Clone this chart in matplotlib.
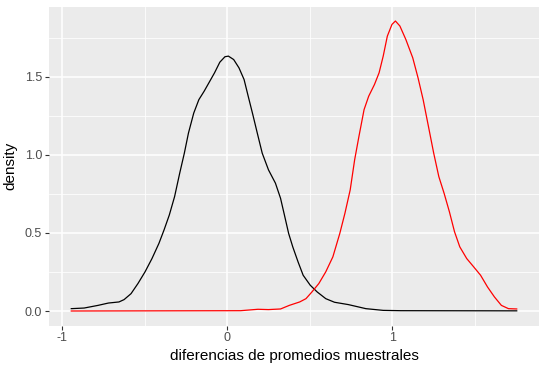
import matplotlib
matplotlib.use("Agg")
import matplotlib.pyplot as plt
import numpy as np

plt.rcParams['font.family'] = ['Liberation Sans', 'DejaVu Sans']

# Black density (null distribution)
black_x = [-0.946, -0.868, -0.784, -0.721, -0.657, -0.626, -0.584, -0.542, -0.499, -0.457,
           -0.415, -0.384, -0.352, -0.320, -0.289, -0.261, -0.236, -0.204, -0.173, -0.141,
           -0.110, -0.078, -0.046, -0.015, 0.006, 0.038, 0.070, 0.101, 0.126, 0.154,
           0.181, 0.211, 0.249, 0.291, 0.322, 0.343, 0.371, 0.396, 0.428, 0.459,
           0.502, 0.544, 0.596, 0.649, 0.733, 0.839, 0.944, 1.050, 1.753]
black_y = [0.015, 0.019, 0.036, 0.051, 0.058, 0.073, 0.111, 0.176, 0.251, 0.336,
           0.433, 0.519, 0.615, 0.733, 0.883, 1.011, 1.140, 1.268, 1.354, 1.408,
           1.466, 1.526, 1.594, 1.629, 1.633, 1.611, 1.558, 1.483, 1.376, 1.258,
           1.140, 1.011, 0.904, 0.819, 0.722, 0.626, 0.497, 0.411, 0.315, 0.229,
           0.165, 0.122, 0.079, 0.056, 0.041, 0.015, 0.004, 0.002, 0.001]

# Red density (alternative distribution)
red_x = [-0.946, 0.080, 0.185, 0.249, 0.322, 0.375, 0.438, 0.476, 0.512, 0.554,
         0.596, 0.639, 0.681, 0.712, 0.744, 0.771, 0.797, 0.828, 0.856, 0.891,
         0.919, 0.944, 0.969, 0.997, 1.018, 1.045, 1.081, 1.123, 1.155, 1.186,
         1.218, 1.250, 1.281, 1.313, 1.345, 1.376, 1.408, 1.450, 1.492, 1.534,
         1.576, 1.618, 1.660, 1.703, 1.753]
red_y = [0.000, 0.002, 0.011, 0.009, 0.013, 0.036, 0.058, 0.079, 0.122, 0.176,
         0.251, 0.347, 0.497, 0.626, 0.776, 0.969, 1.119, 1.290, 1.376, 1.451,
         1.526, 1.633, 1.761, 1.836, 1.858, 1.826, 1.740, 1.622, 1.494, 1.354,
         1.183, 1.011, 0.861, 0.754, 0.636, 0.508, 0.411, 0.336, 0.283, 0.229,
         0.154, 0.090, 0.036, 0.015, 0.013]

x_ticks = [-1, 0, 1]
x_tick_labels = ["-1", "0", "1"]
y_ticks = [0.0, 0.5, 1.0, 1.5]
y_tick_labels = ["0.0", "0.5", "1.0", "1.5"]
x_minor = [-0.5, 0.5, 1.5]
y_minor = [0.25, 0.75, 1.25, 1.75]

W, H = 545, 369
fig = plt.figure(figsize=(W / 100, H / 100), dpi=100)
ax = fig.add_axes([49 / W, (H - 325.5) / H, (539 - 49) / W, (325.5 - 6.5) / H])
ax.set_facecolor('#EBEBEB')
for s in ax.spines.values():
    s.set_visible(False)

xmin, xmax = -0.946, 1.753
dx = (xmax - xmin) * 0.05
ax.set_xlim(xmin - dx, xmax + dx)
ymax = max(max(black_y), max(red_y))
dy = ymax * 0.05
ax.set_ylim(-dy, ymax + dy)

for v in x_minor:
    ax.axvline(v, color='white', lw=0.55, zorder=0.5)
for v in y_minor:
    ax.axhline(v, color='white', lw=0.55, zorder=0.5)
for v in x_ticks:
    ax.axvline(v, color='white', lw=1.1, zorder=0.6)
for v in y_ticks:
    ax.axhline(v, color='white', lw=1.1, zorder=0.6)

ax.plot(black_x, black_y, color='black', lw=0.9, zorder=2)
ax.plot(red_x, red_y, color='red', lw=0.9, zorder=2)

ax.set_xticks(x_ticks)
ax.set_xticklabels(x_tick_labels)
ax.set_yticks(y_ticks)
ax.set_yticklabels(y_tick_labels)
ax.tick_params(axis='both', colors='#333333', length=3, width=0.8, labelsize=9,
               labelcolor='#4D4D4D', pad=2)

ax.set_xlabel('diferencias de promedios muestrales', fontsize=11, color='black', labelpad=3)
ax.set_ylabel('density', fontsize=11, color='black', labelpad=5)

fig.savefig('out.png', dpi=100)
